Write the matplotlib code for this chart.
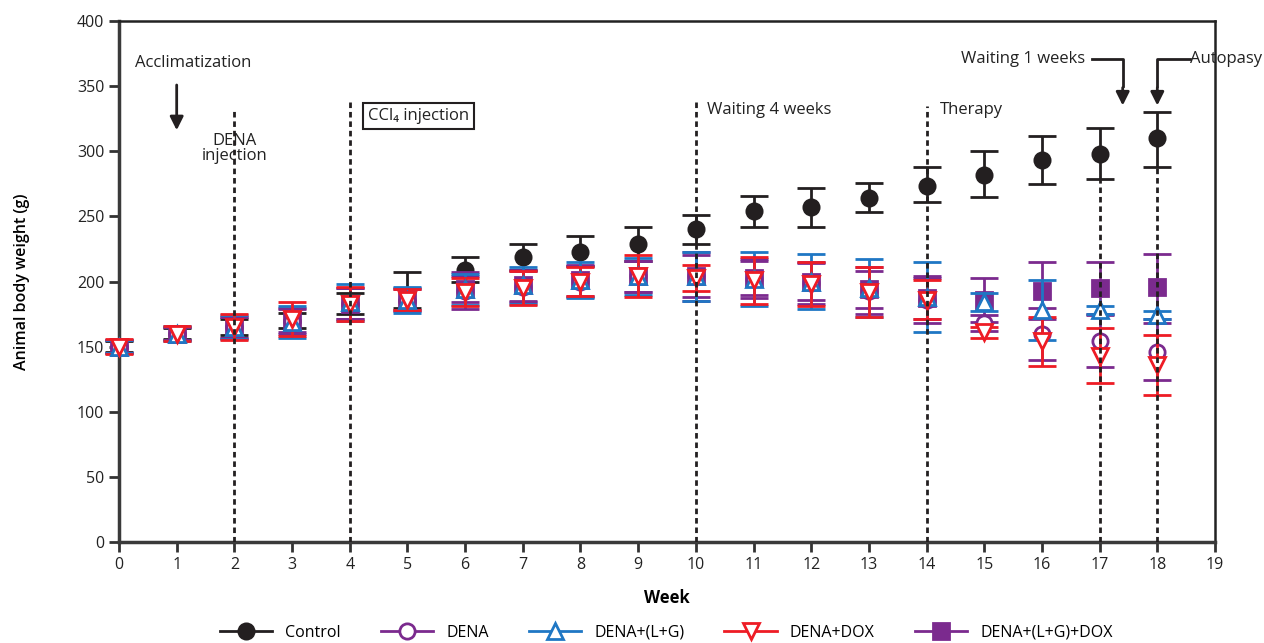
import matplotlib
matplotlib.use("agg")
import matplotlib.pyplot as plt
from matplotlib.lines import Line2D

plt.rcParams["font.family"] = ["Open Sans", "DejaVu Sans"]

# data (body weight in g, mean +/- error)
weeks = list(range(19))

control = [150, 160, 165, 170, 183, 185, 209, 219, 223, 229, 240, 254, 257, 264, 273, 282, 293, 298, 310]
control_lo = [4, 4, 6, 6, 8, 5, 9, 10, 11, 13, 11, 12, 15, 11, 12, 17, 18, 19, 22]
control_hi = [4, 4, 6, 6, 8, 22, 10, 10, 12, 13, 11, 12, 15, 12, 15, 18, 19, 20, 20]

dena = [150, 160, 165, 170, 183, 186, 193, 196, 200, 204, 204, 202, 199, 193, 186, 168, 160, 154, 146]
dena_err = [5, 5, 8, 9, 12, 8, 14, 12, 12, 12, 19, 15, 16, 18, 18, 6, 20, 20, 22]

dena_lg = [150, 160, 165, 169, 184, 186, 194, 197, 201, 204, 204, 202, 200, 195, 188, 184, 178, 178, 174]
dena_lg_err = [5, 6, 9, 12, 14, 10, 12, 14, 14, 14, 19, 21, 21, 22, 27, 7, 23, 3, 3]

dena_dox = [150, 160, 165, 171, 183, 186, 192, 195, 200, 204, 203, 201, 198, 192, 186, 161, 154, 143, 136]
dena_dox_err = [6, 6, 10, 13, 13, 8, 11, 13, 11, 16, 10, 18, 17, 19, 15, 4, 19, 21, 23]

dena_lg_dox = [150, 160, 165, 170, 183, 186, 194, 197, 201, 204, 204, 203, 200, 194, 187, 186, 193, 195, 196]
dena_lg_dox_err = [5, 5, 8, 10, 12, 9, 10, 12, 12, 12, 16, 13, 14, 14, 16, 17, 22, 20, 25]

# vertical phase markers (week, top of dashed line)
phase_weeks = [2, 4, 10, 14, 17, 18]
phase_tops = [333, 339, 339, 335, 280, 288]

BLACK = "#231f20"
PURPLE = "#7b2a8e"
BLUE = "#1f77c4"
RED = "#ee1c25"

fig = plt.figure(figsize=(12.64, 6.43), dpi=100)
ax = fig.add_axes([119 / 1264, 1 - 542 / 643, (1215 - 119) / 1264, (542 - 21) / 643])

common = dict(linestyle="none", capsize=10, elinewidth=2, capthick=2, markersize=11,
              markeredgewidth=2, clip_on=False)

# control sits underneath the treated groups, as in the original
ax.errorbar(weeks, control, yerr=[control_lo, control_hi], marker="o", color=BLACK,
            mfc=BLACK, zorder=2.8, **common)
ax.errorbar(weeks, dena_lg_dox, yerr=dena_lg_dox_err, marker="s", color=PURPLE,
            mfc=PURPLE, zorder=3, **common)
ax.errorbar(weeks, dena, yerr=dena_err, marker="o", color=PURPLE, mfc="white", zorder=3.1, **common)
ax.errorbar(weeks, dena_lg, yerr=dena_lg_err, marker="^", color=BLUE, mfc="white", zorder=3.2, **common)
ax.errorbar(weeks, dena_dox, yerr=dena_dox_err, marker="v", color=RED, mfc="white", zorder=3.3, **common)
ax.vlines(phase_weeks, 0, phase_tops, colors=BLACK, linestyles=(0, (2, 1.4)), lw=2, zorder=3.5)

ax.set_xlim(0, 19)
ax.set_ylim(0, 400)
ax.set_xticks(range(20))
ax.set_yticks(range(0, 401, 50))
ax.tick_params(direction="out", length=7, width=2, labelsize=11.5, color="#333333", labelcolor="#222222")
for side in ["left", "bottom"]:
    ax.spines[side].set_linewidth(2.5)
    ax.spines[side].set_color("#3a3a3a")
for side in ["top", "right"]:
    ax.spines[side].set_linewidth(1.8)
    ax.spines[side].set_color("#222222")

ax.set_xlabel("Week", fontsize=12, fontweight="bold", labelpad=12)
ax.set_ylabel("Animal body weight (g)", fontsize=11.5, fontweight="semibold", labelpad=34)

# annotations
txt = dict(fontsize=12, color="#222222")
arrow = dict(arrowstyle="-|>", lw=2, color=BLACK, mutation_scale=20)
ax.text(0.28, 368, "Acclimatization", va="center", ha="left", **txt)
ax.annotate("", xy=(1, 314), xytext=(1, 353), arrowprops=arrow)
ax.text(2, 302, "DENA\ninjection", ha="center", va="center", linespacing=0.95, **txt)
ax.text(4.32, 327, "CCl₄ injection", ha="left", va="center",
        bbox=dict(boxstyle="square,pad=0.3", fc="white", ec=BLACK, lw=1.5), **txt)
ax.text(10.19, 332, "Waiting 4 weeks", ha="left", va="center", **txt)
ax.text(14.23, 332, "Therapy", ha="left", va="center", **txt)

ax.text(16.75, 371, "Waiting 1 weeks", ha="right", va="center", **txt)
ax.plot([16.87, 17.4, 17.4], [371, 371, 350], color=BLACK, lw=2, clip_on=False)
ax.annotate("", xy=(17.4, 333), xytext=(17.4, 351), arrowprops=arrow)
ax.text(18.57, 371, "Autopasy", ha="left", va="center", **txt)
ax.plot([18.57, 18.0, 18.0], [371, 371, 350], color=BLACK, lw=2, clip_on=False)
ax.annotate("", xy=(18.0, 333), xytext=(18.0, 351), arrowprops=arrow)

handles = [
    Line2D([], [], color=BLACK, marker="o", mfc=BLACK, ms=11, mew=2, lw=2),
    Line2D([], [], color=PURPLE, marker="o", mfc="white", ms=11, mew=2, lw=2),
    Line2D([], [], color=BLUE, marker="^", mfc="white", ms=11, mew=2, lw=2),
    Line2D([], [], color=RED, marker="v", mfc="white", ms=11, mew=2, lw=2),
    Line2D([], [], color=PURPLE, marker="s", mfc=PURPLE, ms=11, mew=2, lw=2),
]
labels = ["Control", "DENA", "DENA+(L+G)", "DENA+DOX", "DENA+(L+G)+DOX"]
fig.legend(handles, labels, loc="center", bbox_to_anchor=(0.527, 0.016), ncol=5, frameon=False,
           fontsize=11.5, handlelength=3.3, columnspacing=2.5, handletextpad=0.8)

fig.savefig("out.png", dpi=100)
